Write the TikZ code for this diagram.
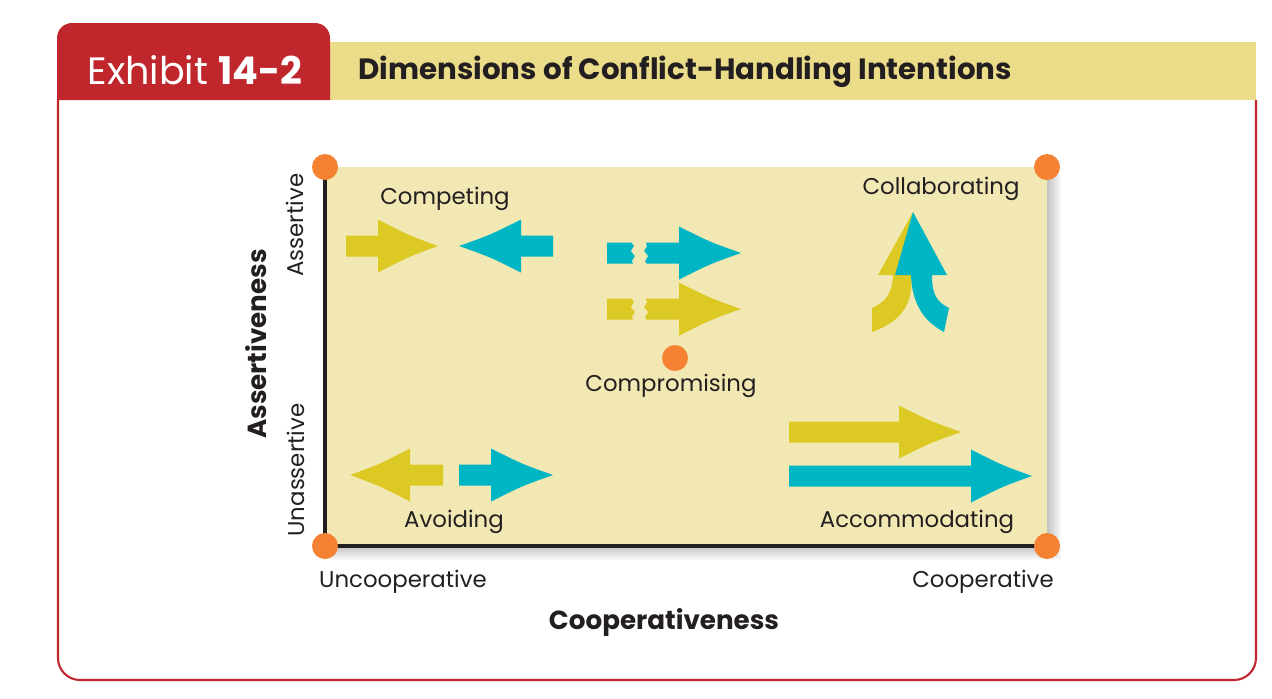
\documentclass[tikz,border=0pt]{standalone}
\usepackage{fontspec}
\setmainfont{Poppins}
\definecolor{exred}{RGB}{192,39,45}
\definecolor{band}{RGB}{235,220,138}
\definecolor{panel}{RGB}{242,232,180}
\definecolor{yel}{RGB}{221,201,35}
\definecolor{cyn}{RGB}{0,182,197}
\definecolor{org}{RGB}{245,130,50}
\definecolor{ink}{RGB}{35,31,32}

\newcommand{\blockarrow}[5]{%
  \fill[#1] (#2,#5-10.5) -- (#3,#5-10.5) -- (#3,#5-26.5)
    .. controls ({(#3+#4)/2},{#5-11}) .. (#4,#5)
    .. controls ({(#3+#4)/2},{#5+11}) .. (#3,#5+26.5)
    -- (#3,#5+10.5) -- (#2,#5+10.5) -- cycle;}

\begin{document}
\begin{tikzpicture}[x=0.02cm, y=-0.02cm,
  lbl/.style={text=ink, font=\fontsize{13}{15}\selectfont, inner sep=0pt},
  axlbl/.style={text=ink, font=\fontsize{14.9}{17}\selectfont\bfseries, inner sep=0pt},
  dot/.style={fill=org}]
\useasboundingbox (0,0) rectangle (1272,698);

\draw[exred, line width=1.2pt, rounded corners=0.44cm] (58,100) -- (58,680) -- (1256,680) -- (1256,100);
\fill[band] (330,42) rectangle (1256,100);
\fill[exred] (57,100) [rounded corners=0.3cm] -- (57,23) -- (330,23) [sharp corners] -- (330,100) -- cycle;
\node[text=white, inner sep=0pt, font=\fontsize{21.7}{24}\selectfont] (exhibit) at (195,70) {Exhibit \textbf{14-2}};
\node[text=ink, inner sep=0pt, anchor=west, font=\fontsize{16.7}{19}\selectfont\bfseries] (title) at (358,72) {Dimensions of Conflict-Handling Intentions};

\foreach \s in {2,4,...,14}
  \fill[black, opacity=0.035] (332,174) rectangle ({1047+\s},{546+\s});
\fill[panel] (325,167) rectangle (1047,546);
\draw[ink, line width=1.8pt] (325,167) -- (325,546) -- (1047,546);

\blockarrow{yel}{346}{378}{438}{246}
\blockarrow{cyn}{553}{521}{459}{246}

\blockarrow{cyn}{607}{679}{741}{253}
\fill[panel] (631,241) -- (634,246) -- (631,251) -- (635,256) -- (632,261) -- (634,265)
  -- (647,265) -- (645,261) -- (648,256) -- (644,251) -- (647,246) -- (645,241) -- cycle;
\blockarrow{yel}{607}{679}{741}{309}
\fill[panel] (631,297) -- (634,302) -- (631,307) -- (635,312) -- (632,317) -- (634,321)
  -- (647,321) -- (645,317) -- (648,312) -- (644,307) -- (647,302) -- (645,297) -- cycle;

\fill[yel] (913,212) -- (878,275) -- (893,275) .. controls (892,295) and (885,302) .. (872,308)
  -- (872,332) .. controls (900,322) and (914,305) .. (911,275) -- (925,275) -- cycle;
\fill[cyn] (913,212) -- (895,275) -- (911,275) .. controls (912,305) and (925,322) .. (944,332)
  -- (949,308) .. controls (937,302) and (932,295) .. (932,275) -- (947,275) -- cycle;

\blockarrow{yel}{443}{410}{350}{475}
\blockarrow{cyn}{459}{491}{553}{475}

\blockarrow{yel}{789}{899}{961}{432}
\blockarrow{cyn}{789}{971}{1032}{476}

\fill[dot] (325,167) circle[radius=13];
\fill[dot] (1047,167) circle[radius=13];
\fill[dot] (325,546) circle[radius=13];
\fill[dot] (1047,546) circle[radius=13];
\fill[dot] (675,358) circle[radius=13];

\node[lbl] (competing) at (445,199) {Competing};
\node[lbl] (collaborating) at (941,189) {Collaborating};
\node[lbl] (compromising) at (671,386) {Compromising};
\node[lbl] (avoiding) at (454,522) {Avoiding};
\node[lbl] (accommodating) at (917,522) {Accommodating};

\node[lbl] (uncoop) at (403,582) {Uncooperative};
\node[lbl] (coop) at (983,582) {Cooperative};
\node[axlbl] (cooperativeness) at (664,622) {Cooperativeness};
\node[lbl, rotate=90] (assertive) at (295,225) {Assertive};
\node[lbl, rotate=90] (unassertive) at (296,470) {Unassertive};
\node[axlbl, rotate=90] (assertiveness) at (256,344) {Assertiveness};
\end{tikzpicture}
\end{document}
